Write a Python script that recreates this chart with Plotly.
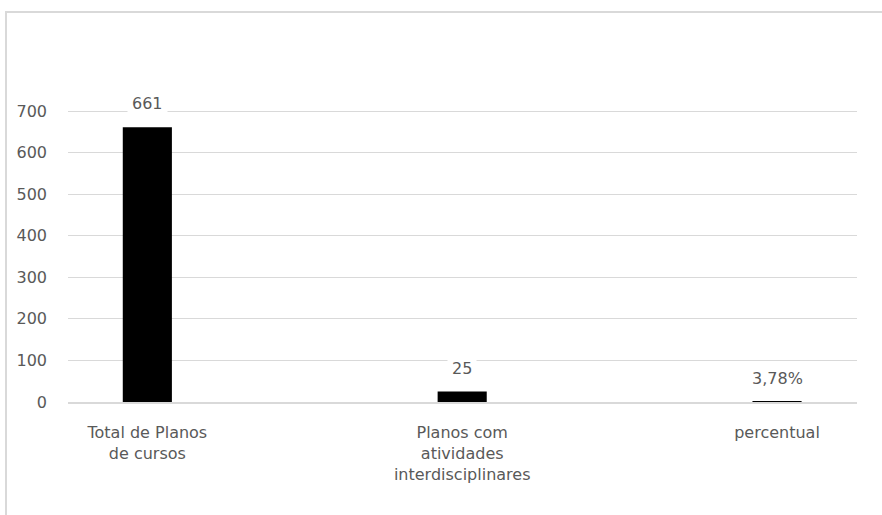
import plotly.graph_objects as go

categories = ["Total de Planos<br>de cursos",
              "Planos com<br>atividades<br>interdisciplinares",
              "percentual"]
values = [661, 25, 0.0378]
value_labels = ["661", "25", "3,78%"]
y_ticks = [0, 100, 200, 300, 400, 500, 600, 700]

W, H = 882, 515
ml, mr, mt, mb = 68, 25, 108, 113
pw, ph = W - ml - mr, H - mt - mb
y_top = 700 * ph / (ph - 3)

font = dict(family="'DejaVu Sans', sans-serif", size=16, color="#595959")
xpos = list(range(len(categories)))

fig = go.Figure(go.Bar(
    x=xpos, y=values, width=0.156,
    marker=dict(color="#000000", line=dict(width=0)),
    hoverinfo="skip",
))

# value labels sitting just above each bar
for xi, v, lab in zip(xpos, values, value_labels):
    fig.add_annotation(x=xi, y=v, text=lab, showarrow=False,
                       yanchor="bottom", yshift=9, bgcolor="#ffffff",
                       borderpad=4, font=font)

# outer chart frame
fig.add_shape(type="rect", xref="paper", yref="paper",
              x0=(6 - ml) / pw, x1=1 + (W + 10 - ml - pw) / pw,
              y0=-(H + 10 - mt - ph) / ph, y1=1 + (mt - 12) / ph,
              line=dict(color="#d9d9d9", width=2), layer="below")

fig.update_layout(
    width=W, height=H,
    margin=dict(l=ml, r=mr, t=mt, b=mb),
    paper_bgcolor="#ffffff", plot_bgcolor="#ffffff",
    showlegend=False, font=font,
    xaxis=dict(range=[-0.252, 2.254], tickvals=xpos, ticktext=categories,
               showgrid=False, zeroline=False, showline=True,
               linecolor="#d9d9d9", linewidth=1.5, ticks="",
               layer="above traces",
               ticklabelstandoff=15, tickfont=font, fixedrange=True),
    yaxis=dict(range=[0, y_top], tickvals=y_ticks,
               showgrid=True, gridcolor="#d9d9d9", gridwidth=1,
               zeroline=False, showline=False, ticks="",
               ticklabelstandoff=20, tickfont=font, fixedrange=True),
)

fig.write_html("out.html")
